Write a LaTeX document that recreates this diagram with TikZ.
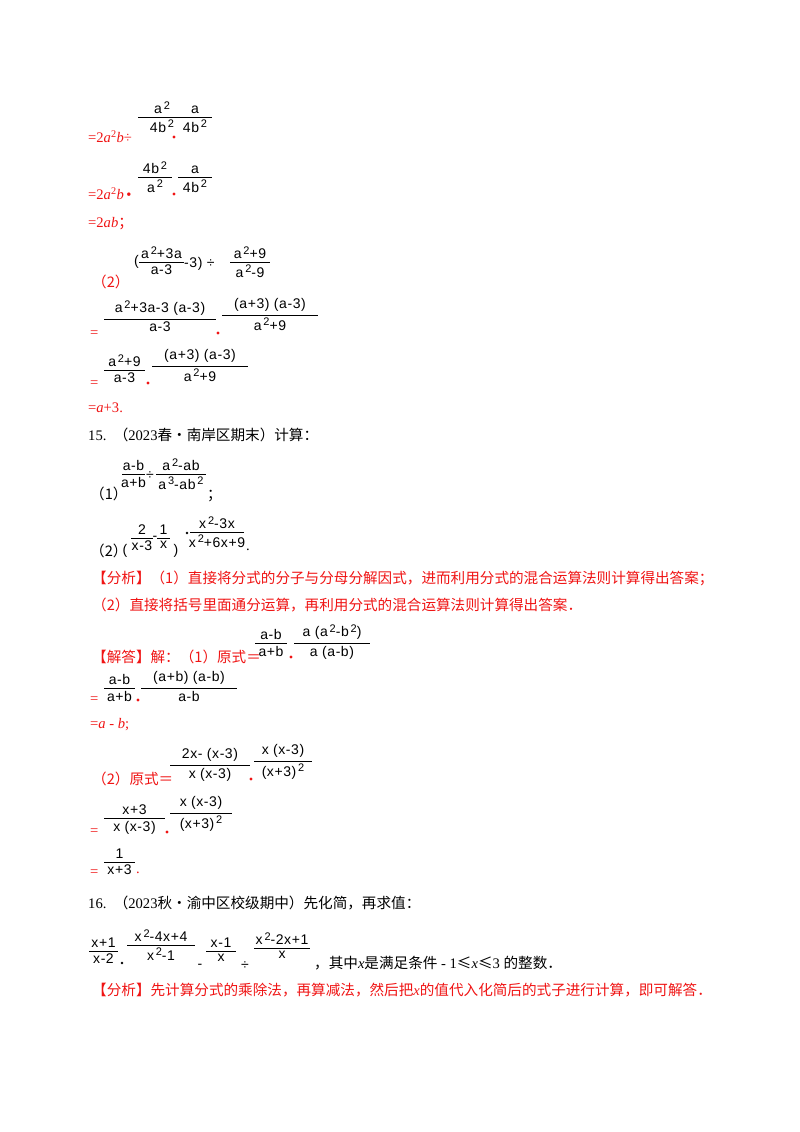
\documentclass[tikz,border=0pt]{standalone}
\usepackage{fontspec}
\setmainfont{Liberation Serif}
\newfontfamily\cjk{Noto Sans CJK SC}
\newfontfamily\ff[LetterSpace=4]{Liberation Sans}
\definecolor{rd}{RGB}{240,20,20}
\newcommand\sq[1]{\raisebox{0.6ex}{\fontsize{11}{11}\selectfont\,#1}}
\newcommand\frc[5]{%
  \draw[line width=0.6pt] (#1,#3)--(#2,#3);
  \node[fr,anchor=south] at ({(#1+#2)/2},#3-3) {#4};
  \node[fr,anchor=north] at ({(#1+#2)/2},#3+3) {#5};}
\newcommand\rdot[2]{\fill[rd] (#1,#2) circle (1.6);}
\begin{document}
\begin{tikzpicture}[x=1pt,y=-1pt,
  fr/.style={inner sep=0pt,font=\ff\fontsize{14}{14}\selectfont},
  tx/.style={inner sep=0pt,anchor=west,font=\fontsize{14.6}{15}\selectfont},
  red/.style={tx,text=rd}]
\useasboundingbox (0,0) rectangle (800,1132);
\fill[white] (0,0) rectangle (800,1132);
% block 1
\node[red] at (88,137) {=2\textit{a}\textsuperscript{2}\textit{b}÷};
\frc{138}{186}{117}{a\sq2}{4b\sq2}
\rdot{174}{137}
\frc{178}{212}{117}{a}{4b\sq2}
\node[red] at (88,194) {=2\textit{a}\textsuperscript{2}\textit{b}\,•};
\frc{138}{172}{177}{4b\sq2}{a\sq2}
\rdot{174}{194}
\frc{178}{212}{177}{a}{4b\sq2}
\node[red] at (88,224) {=2\textit{ab}\cjk；};
\node[red] at (92,282) {\cjk（2）};
\node[fr,anchor=east] at (139,262) {(};
\frc{139}{184}{262}{a\sq2+3a}{a-3}
\node[fr,anchor=west] at (184,264) {-3) ÷};
\frc{230}{270}{262}{a\sq2+9}{a\sq2-9}
\node[red] at (90,334) {=};
\frc{104}{216}{319}{a\sq2+3a-3 (a-3)}{a-3}
\rdot{218}{333}
\frc{222}{318}{315}{(a+3) (a-3)}{a\sq2+9}
\node[red] at (90,384) {=};
\frc{104}{145}{370}{a\sq2+9}{a-3}
\rdot{148}{383}
\frc{152}{248}{366}{(a+3) (a-3)}{a\sq2+9}
\node[red] at (88,408) {=\textit{a}+3.};
% 15
\node[tx] at (88,435) {15.\ \ {\cjk（}2023{\cjk 春•南岸区期末）计算：}};
\node[tx] at (90,494) {\cjk（1）};
\frc{122}{145}{474}{a-b}{a+b}
\node[fr] at (150,476) {÷};
\frc{156}{206}{474}{a\sq2-ab}{a\sq3-ab\sq2}
\node[tx] at (207,496) {\cjk ；};
\node[tx] at (90,551) {\cjk（2）};
\node[fr] at (125,551) {(};
\frc{131}{153}{538}{2}{x-3}
\node[fr] at (155,538) {-};
\frc{157}{170}{538}{1}{x}
\node[fr] at (176,551) {)};
\fill (187,533) circle (1.4);
\frc{190}{244}{532}{x\sq2-3x}{x\sq2+6x+9}
\node[tx] at (246,550) {.};
\node[red] at (92,578) {\cjk【分析】（1）直接将分式的分子与分母分解因式，进而利用分式的混合运算法则计算得出答案；};
\node[red] at (92,605) {\cjk（2）直接将括号里面通分运算，再利用分式的混合运算法则计算得出答案．};
\node[red] at (92,657) {\cjk【解答】解：（1）原式＝};
\frc{255}{287}{643}{a-b}{a+b}
\rdot{291}{657}
\frc{294}{370}{643}{a (a\sq2-b\sq2)}{a (a-b)}
\node[red] at (90,700) {=};
\frc{104}{135}{688}{a-b}{a+b}
\rdot{138}{700}
\frc{141}{237}{688}{(a+b) (a-b)}{a-b}
\node[red] at (90,725) {=\textit{a} - \textit{b};};
\node[red] at (92,779) {\cjk（2）原式＝};
\frc{170}{250}{765}{2x- (x-3)}{x (x-3)}
\rdot{251}{779}
\frc{254}{312}{761}{x (x-3)}{(x+3)\sq2}
\node[red] at (90,832) {=};
\frc{104}{165}{818}{x+3}{x (x-3)}
\rdot{167}{832}
\frc{170}{232}{813}{x (x-3)}{(x+3)\sq2}
\node[red] at (90,873) {=};
\frc{104}{135}{862}{1}{x+3}
\node[red] at (136,873) {.};
% 16
\node[tx] at (88,903) {16.\ \ {\cjk（}2023{\cjk 秋•渝中区校级期中）先化简，再求值：}};
\frc{89}{118}{951}{x+1}{x-2}
\fill (122,963) circle (1.4);
\frc{127}{195}{945}{x\sq2-4x+4}{x\sq2-1}
\node[fr] at (200,966) {-};
\frc{206}{236}{951}{x-1}{x}
\node[fr] at (245,966) {÷};
\frc{254}{310}{948}{x\sq2-2x+1}{x}
\node[tx] at (314,963) {{\cjk ，其中}\textit{x}{\cjk 是满足条件} - 1{\cjk ≤}\textit{x}{\cjk ≤}3 {\cjk 的整数．}};
\node[red] at (92,990) {{\cjk【分析】先计算分式的乘除法，再算减法，然后把}\textit{x}{\cjk 的值代入化简后的式子进行计算，即可解答．}};
\end{tikzpicture}
\end{document}
